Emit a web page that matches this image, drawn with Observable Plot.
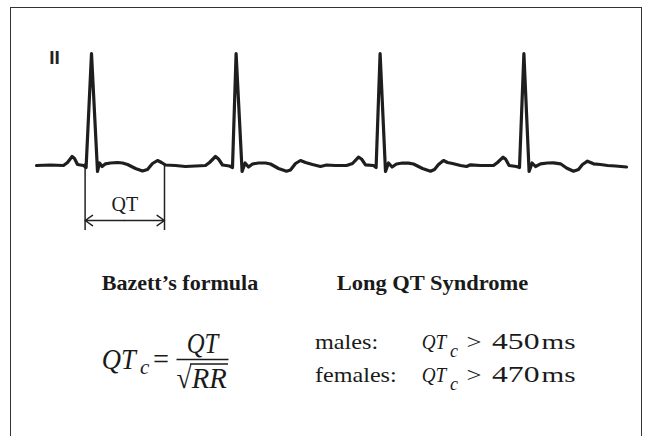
<!DOCTYPE html>
<html><head><meta charset="utf-8">
<script src="https://cdn.jsdelivr.net/npm/d3@7"></script>
<script src="https://cdn.jsdelivr.net/npm/@observablehq/plot@0.6"></script>
<style>
html,body{margin:0;padding:0;background:#fff;}
#page{position:relative;width:651px;height:436px;overflow:hidden;background:#fff;}
#frame{position:absolute;left:10px;top:7px;width:632px;height:520px;border:1.5px solid #333;box-sizing:border-box;}
#chart{position:absolute;left:0;top:0;}
#caption{position:absolute;left:0;top:245px;}
</style></head>
<body><div id="page"><div id="frame"></div><div id="chart"></div><div id="caption"></div></div>
<script>
// ECG lead II trace: time (ms) and voltage (mV), one row per beat
const ecgTime = [
  0,70,135,155,178,190,205,235,248,275,305,315,328,345,370,405,430,455,495,530,555,580,605,625,645,695,745,795,
  845,865,895,910,930,965,980,998,1028,1043,1060,1080,1110,1145,1170,1210,1250,1270,1295,1320,1345,1380,1420,1450,1495,1550,
  1580,1610,1625,1645,1685,1698,1718,1745,1760,1778,1800,1830,1860,1885,1930,1970,1990,2010,2035,2055,2080,2120,2150,2170,2220,2285,
  2305,2333,2345,2363,2400,2415,2437,2463,2478,2495,2520,2555,2585,2620,2650,2685,2710,2730,2755,2785,2820,2855,2895,2950
];
const ecgVolt = [
  0,0.005,0,0.03,0.09,0.07,0.01,0,-0.02,1.12,-0.06,0.025,-0.01,0.017,0.025,0.03,0.025,0.01,-0.03,-0.055,-0.04,0.02,0.05,0.03,0.005,0,-0.01,-0.005,
  0,0.03,0.09,0.065,0.005,-0.005,-0.02,1.12,-0.06,0.025,-0.015,0.015,0.025,0.025,0.015,-0.03,-0.057,-0.045,0.02,0.05,0.03,0.01,-0.01,0.005,0,0,
  0.02,0.083,0.065,0.007,0,-0.02,1.12,-0.06,0.025,-0.015,0.015,0.025,0.023,0.015,-0.03,-0.057,-0.04,0.01,0.05,0.03,0.02,0,-0.01,0.007,0,0,
  0.03,0.083,0.065,0,-0.01,-0.02,1.12,-0.06,0.025,-0.01,0.017,0.025,0.027,0.017,-0.025,-0.057,-0.04,0.01,0.043,0.017,0.01,0,-0.005,-0.015
];
const leadName = "II";
const qtTimes = [243, 640];      // start of Q, end of T (ms)
const qtLabel = "QT";
const headings = ["Bazett\u2019s formula", "Long QT Syndrome"];
const groups = ["males:", "females:"];
const thresholds = ["450", "470"];
const unit = "ms";

const ecg = ecgTime.map((t, i) => ({t, v: ecgVolt[i]}));
const qtMid = (qtTimes[0] + qtTimes[1]) / 2;

const chart = Plot.plot({
  width: 651, height: 245, margin: 0,
  x: {domain: [-180, 3075], axis: null},
  y: {domain: [-0.8, 1.65], axis: null},
  style: {background: "transparent"},
  marks: [
    Plot.ruleX(qtTimes, {y1: 0.02, y2: -0.65, stroke: "#222", strokeWidth: 1.5}),
    Plot.arrow([{a: qtMid, b: qtTimes[0]}, {a: qtMid, b: qtTimes[1]}], {
      x1: "a", x2: "b", y1: () => -0.55, y2: () => -0.55,
      stroke: "#222", strokeWidth: 1.5, headLength: 9, headAngle: 70
    }),
    Plot.line(ecg, {x: "t", y: "v", stroke: "#1e1e1e", strokeWidth: 3.2, strokeLinejoin: "round", strokeLinecap: "round"}),
    Plot.text([qtLabel], {x: () => qtMid, y: () => -0.386, text: d => d, fontSize: 20,
      fontFamily: "Liberation Serif, serif", fill: "#1a1a1a"}),
    Plot.text([leadName], {x: () => 90, y: () => 1.075, text: d => d, fontSize: 19, fontWeight: "bold",
      fontFamily: "Liberation Sans Narrow, Liberation Sans, sans-serif", fill: "#222"})
  ]
});
document.getElementById("chart").appendChild(chart);

// caption: formulas
const cap = d3.create("svg").attr("width", 651).attr("height", 191)
  .style("font-family", "'Liberation Serif', serif");
const g = cap.append("g").attr("transform", "translate(0,-245)");
function txt(s, x, y, o = {}) {
  const t = g.append("text").attr("x", x).attr("y", y)
    .attr("font-size", o.size || 22)
    .attr("font-weight", o.weight || "normal")
    .attr("font-style", o.style || "normal")
    .attr("fill", "#1a1a1a").text(s);
  if (o.len) t.attr("textLength", o.len).attr("lengthAdjust", o.adjust || "spacingAndGlyphs");
  return t;
}
function rule(x1, x2, y, w) {
  g.append("line").attr("x1", x1).attr("x2", x2).attr("y1", y).attr("y2", y)
    .attr("stroke", "#1a1a1a").attr("stroke-width", w);
}
txt(headings[0], 101.7, 290, {weight: "bold", len: 156.6});
txt(headings[1], 336.7, 290, {weight: "bold", len: 191.6});

// Bazett
txt("QT", 101.7, 369, {size: 30, style: "italic", len: 34});
txt("c", 140, 374, {size: 21, style: "italic"});
txt("=", 153, 369, {size: 30, len: 16});
txt("QT", 186.7, 353, {size: 30, style: "italic", len: 31.6});
rule(176.5, 228.5, 359.5, 1.4);
txt("\u221A", 176.5, 388, {size: 30, len: 15});
rule(190, 228, 364, 1.3);
txt("RR", 191.7, 388, {size: 30, style: "italic", len: 35});

// thresholds
[349, 382].forEach((y, i) => {
  txt(groups[i], 315, y, {size: 21, len: i === 0 ? 63.3 : 81.7});
  txt("QT", 421.7, y, {size: 22, style: "italic", len: 24.5});
  txt("c", 450, y + 8, {size: 18, style: "italic"});
  txt(">", 466.5, y, {size: 22, len: 15});
  txt(thresholds[i], 492, y, {size: 23, len: 47.5});
  txt(unit, 541.5, y, {size: 22, len: 34});
});
document.getElementById("caption").appendChild(cap.node());
</script>
</body></html>
